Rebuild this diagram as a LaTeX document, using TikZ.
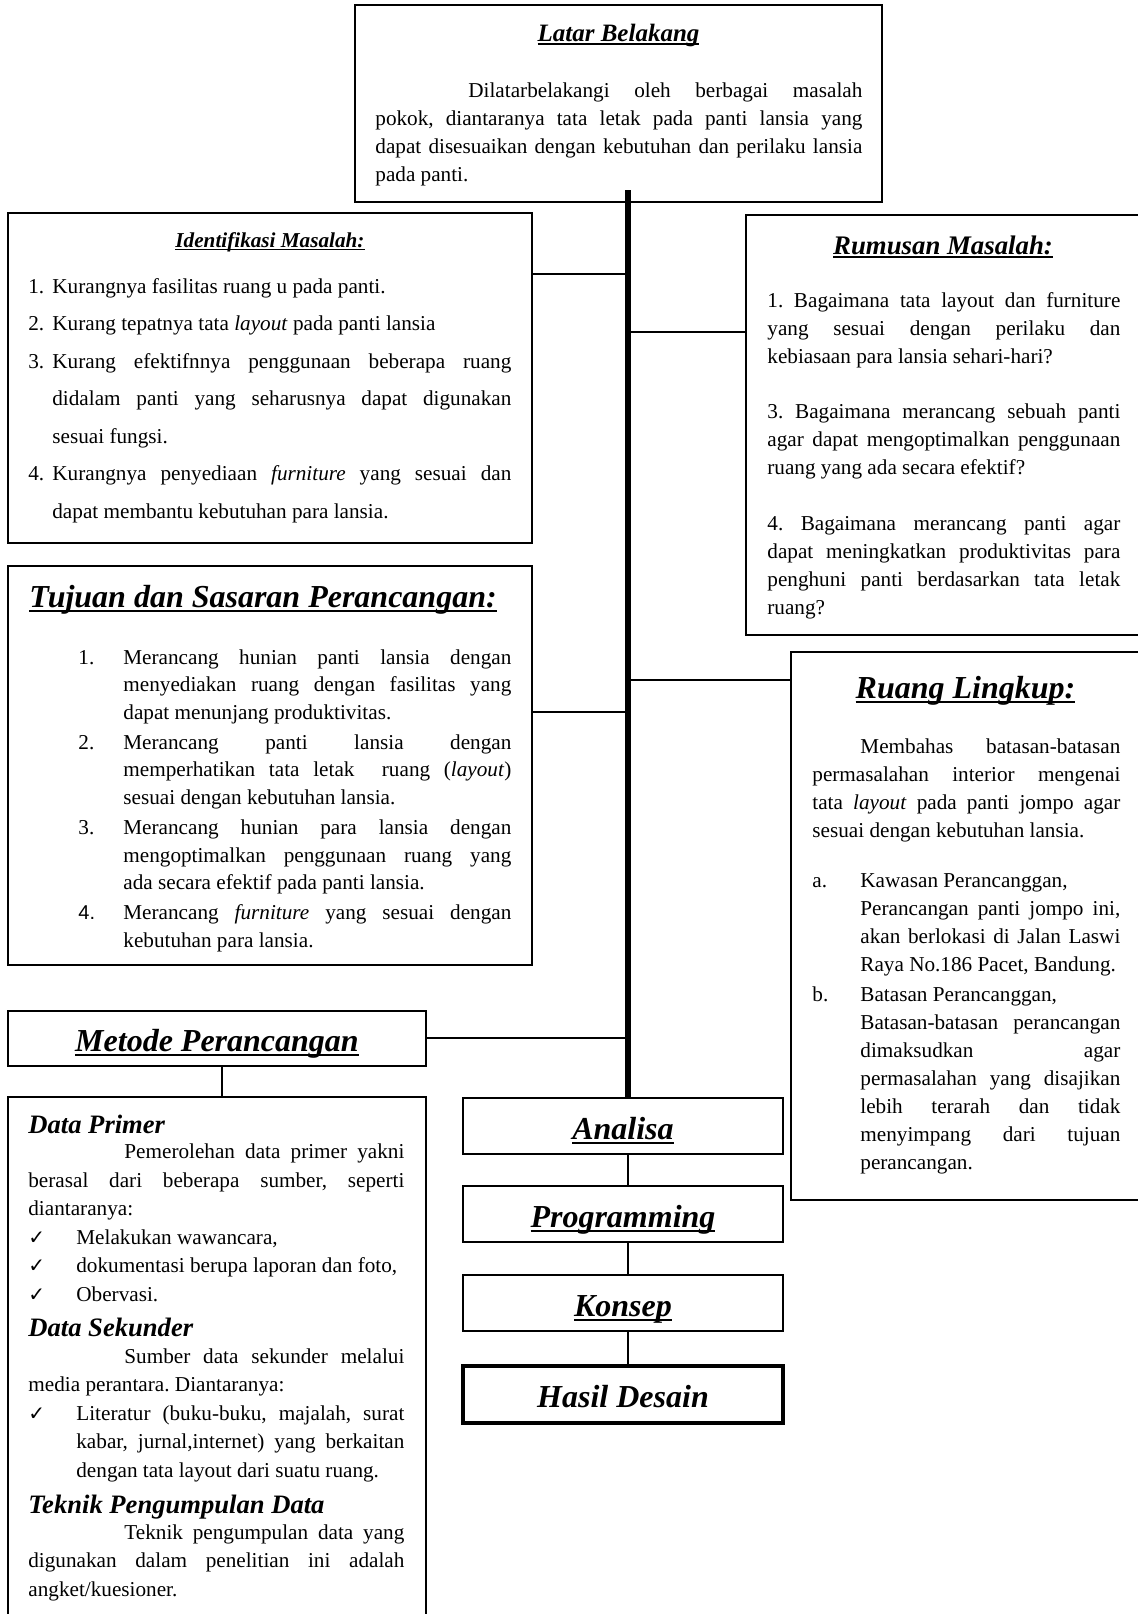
\documentclass[tikz,border=0pt]{standalone}
\usepackage{fontspec}
\setmainfont{Liberation Serif}
\newfontfamily\sansf{Liberation Sans}
\newfontfamily\symf{DejaVu Sans}
\usetikzlibrary{fit}
\frenchspacing
\newcommand\tul[1]{\setbox0=\hbox{#1}\rlap{\vrule width\wd0 height -0.085em depth 0.155em}\box0}
\newcommand\bodyf{\fontsize{10.6pt}{14pt}\selectfont}
\newcommand\ttlf[1]{\fontsize{#1}{#1}\selectfont\bfseries\itshape}
\newcommand\myitem[2]{\hangindent=#1\hangafter=1\noindent\makebox[#1][l]{#2}}
\newcommand\chk{{\symf\fontsize{10pt}{10pt}\selectfont ✓}}
\begin{document}
\begin{tikzpicture}[x=0.5pt,y=-0.5pt,
  boxframe/.style={draw, line width=0.9pt, inner sep=0pt},
  conn/.style={line width=0.8pt},
  spine/.style={line width=3pt},
  bodytext/.style={anchor=base west, inner sep=0pt, align=justify, font=\bodyf\frenchspacing},
  ttl/.style={anchor=base, inner sep=0pt},
  stackbox/.style={boxframe, minimum width=160pt, minimum height=28pt, text height=13pt, text depth=0pt, font=\ttlf{16pt}},
]
\useasboundingbox (0,0) rectangle (1138,1614);
\fill[white] (0,0) rectangle (1138,1614);
\clip (0,0) rectangle (1138,1614);

% frames
\node[boxframe, fit={(355,5) (882,202)}] (latar) {};
\node[boxframe, fit={(8,213) (532,543)}] (ident) {};
\node[boxframe, fit={(746,215) (1150,635)}] (rumus) {};
\node[boxframe, fit={(8,566) (532,965)}] (tujuan) {};
\node[boxframe, fit={(791,652) (1150,1200)}] (ruang) {};
\node[boxframe, minimum width=209pt, minimum height=27.5pt, text height=13pt, text depth=0pt, font=\ttlf{16pt}] (metode) at (217,1038.5) {\tul{Metode Perancangan}};
\node[boxframe, fit={(8,1097) (426,1650)}] (data) {};
\node[stackbox] (analisa) at (623,1126) {\tul{Analisa}};
\node[stackbox] (prog) at (623,1214) {\tul{Programming}};
\node[stackbox] (konsep) at (623,1303) {\tul{Konsep}};
\node[stackbox, line width=1.8pt, minimum height=28.5pt] (hasil) at (623,1394.5) {Hasil Desain};

% connectors
\coordinate (sp) at (628,190);
\draw[spine] (sp) -- (sp |- analisa.north);
\coordinate (j1) at (628,274);
\draw[conn] (ident.east |- j1) -- (j1);
\coordinate (j2) at (628,332);
\draw[conn] (j2) -- (rumus.west |- j2);
\coordinate (j3) at (628,680);
\draw[conn] (j3) -- (ruang.west |- j3);
\coordinate (j4) at (628,712);
\draw[conn] (tujuan.east |- j4) -- (j4);
\coordinate (j5) at (628,1038);
\draw[conn] (metode.east |- j5) -- (j5);
\draw[conn] ([xshift=2.5pt]metode.south) -- ([xshift=2.5pt]data.north);
\draw[conn] (analisa.south -| sp) -- (prog.north -| sp);
\draw[conn] (prog.south -| sp) -- (konsep.north -| sp);
\draw[conn] (konsep.south -| sp) -- (hasil.north -| sp);

% Latar Belakang
\node[ttl, font=\ttlf{12.5pt}] (latarT) at (618.5,41) {\tul{Latar Belakang}};
\node[bodytext, text width=243.5pt] (latarB) at (375,97) {\hspace*{46.5pt}Dilatarbelakangi oleh berbagai masalah\linebreak pokok, diantaranya tata letak pada panti lansia yang\linebreak dapat disesuaikan dengan kebutuhan dan perilaku lansia\linebreak pada panti.};

% Identifikasi
\node[ttl, font=\ttlf{10.6pt}] (identT) at (270,247) {\tul{Identifikasi Masalah:}};
\node[bodytext, text width=241.5pt, font=\fontsize{10.6pt}{18.75pt}\selectfont\frenchspacing] (identB) at (28,293) {\myitem{12pt}{1.}Kurangnya fasilitas ruang u pada panti.\par\myitem{12pt}{2.}Kurang tepatnya tata \textit{layout} pada panti lansia\par\myitem{12pt}{3.}Kurang efektifnnya penggunaan beberapa ruang\linebreak didalam panti yang seharusnya dapat digunakan\linebreak sesuai fungsi.\par\myitem{12pt}{4.}Kurangnya penyediaan \textit{furniture} yang sesuai dan\linebreak dapat membantu kebutuhan para lansia.\par};

% Rumusan
\node[ttl, font=\ttlf{13.4pt}] (rumusT) at (943,254) {\tul{Rumusan Masalah:}};
\node[bodytext, text width=176.5pt] (rumusB) at (767,307) {1. Bagaimana tata layout dan furniture\linebreak yang sesuai dengan perilaku dan\linebreak kebiasaan para lansia sehari-hari?\par\vspace{13.75pt}3. Bagaimana merancang sebuah panti\linebreak agar dapat mengoptimalkan penggunaan\linebreak ruang yang ada secara efektif?\par\vspace{13.75pt}4. Bagaimana merancang panti agar\linebreak dapat meningkatkan produktivitas para\linebreak penghuni panti berdasarkan tata letak\linebreak ruang?};

% Tujuan
\node[ttl, anchor=base west, font=\ttlf{16pt}] (tujuanT) at (29,607) {\tul{Tujuan dan Sasaran Perancangan:}};
\node[bodytext, text width=216.5pt, font=\fontsize{10.6pt}{13.8pt}\selectfont\frenchspacing] (tujuanB) at (78,664) {\parskip=1.2pt\myitem{22.5pt}{1.}Merancang hunian panti lansia dengan\linebreak menyediakan ruang dengan fasilitas yang\linebreak dapat menunjang produktivitas.\par\myitem{22.5pt}{2.}Merancang panti lansia dengan\linebreak memperhatikan tata letak\ \ ruang (\textit{layout})\linebreak sesuai dengan kebutuhan lansia.\par\myitem{22.5pt}{3.}Merancang hunian para lansia dengan\linebreak mengoptimalkan penggunaan ruang yang\linebreak ada secara efektif pada panti lansia.\par\myitem{22.5pt}{{\sansf\fontsize{10pt}{13.8pt}\selectfont 4.}}Merancang \textit{furniture} yang sesuai dengan\linebreak kebutuhan para lansia.\par};

% Ruang Lingkup
\node[ttl, font=\ttlf{16pt}] (ruangT) at (965.5,698) {\tul{Ruang Lingkup:}};
\node[bodytext, text width=154pt] (ruangP) at (812,753) {\hspace*{24pt}Membahas batasan-batasan\linebreak permasalahan interior mengenai\linebreak tata \textit{layout} pada panti jompo agar\linebreak sesuai dengan kebutuhan lansia.};
\node[bodytext, text width=154pt] (ruangL) at (812,887) {\parskip=1pt\myitem{24pt}{a.}Kawasan Perancanggan,\hfil\break Perancangan panti jompo ini,\linebreak akan berlokasi di Jalan Laswi\linebreak Raya No.186 Pacet, Bandung.\par\myitem{24pt}{b.}Batasan Perancanggan,\hfil\break Batasan-batasan perancangan\linebreak dimaksudkan agar\linebreak permasalahan yang disajikan\linebreak lebih terarah dan tidak\linebreak menyimpang dari tujuan\linebreak perancangan.\par};

% Data
\node[ttl, anchor=base west, font=\ttlf{13.3pt}] (dpT) at (28,1133) {Data Primer};
\node[bodytext, text width=188pt, font=\fontsize{10.6pt}{14.3pt}\selectfont\frenchspacing] (dpB) at (28,1158.5) {\hspace*{48pt}Pemerolehan data primer yakni\linebreak berasal dari beberapa sumber, seperti\linebreak diantaranya:\par\myitem{24pt}{\chk}Melakukan wawancara,\par\myitem{24pt}{\chk}dokumentasi berupa laporan dan foto,\par\myitem{24pt}{\chk}Obervasi.\par};
\node[ttl, anchor=base west, font=\ttlf{13.3pt}] (dsT) at (28,1336) {Data Sekunder};
\node[bodytext, text width=188pt, font=\fontsize{10.6pt}{14.3pt}\selectfont\frenchspacing] (dsB) at (28,1363) {\hspace*{48pt}Sumber data sekunder melalui\linebreak media perantara. Diantaranya:\par\myitem{24pt}{\chk}Literatur (buku-buku, majalah, surat\linebreak kabar, jurnal,internet) yang berkaitan\linebreak dengan tata layout dari suatu ruang.\par};
\node[ttl, anchor=base west, font=\ttlf{13.3pt}] (tkT) at (28,1513) {Teknik Pengumpulan Data};
\node[bodytext, text width=188pt, font=\fontsize{10.6pt}{14.3pt}\selectfont\frenchspacing] (tkB) at (28,1539) {\hspace*{48pt}Teknik pengumpulan data yang\linebreak digunakan dalam penelitian ini adalah\linebreak angket/kuesioner.};
\end{tikzpicture}
\end{document}
